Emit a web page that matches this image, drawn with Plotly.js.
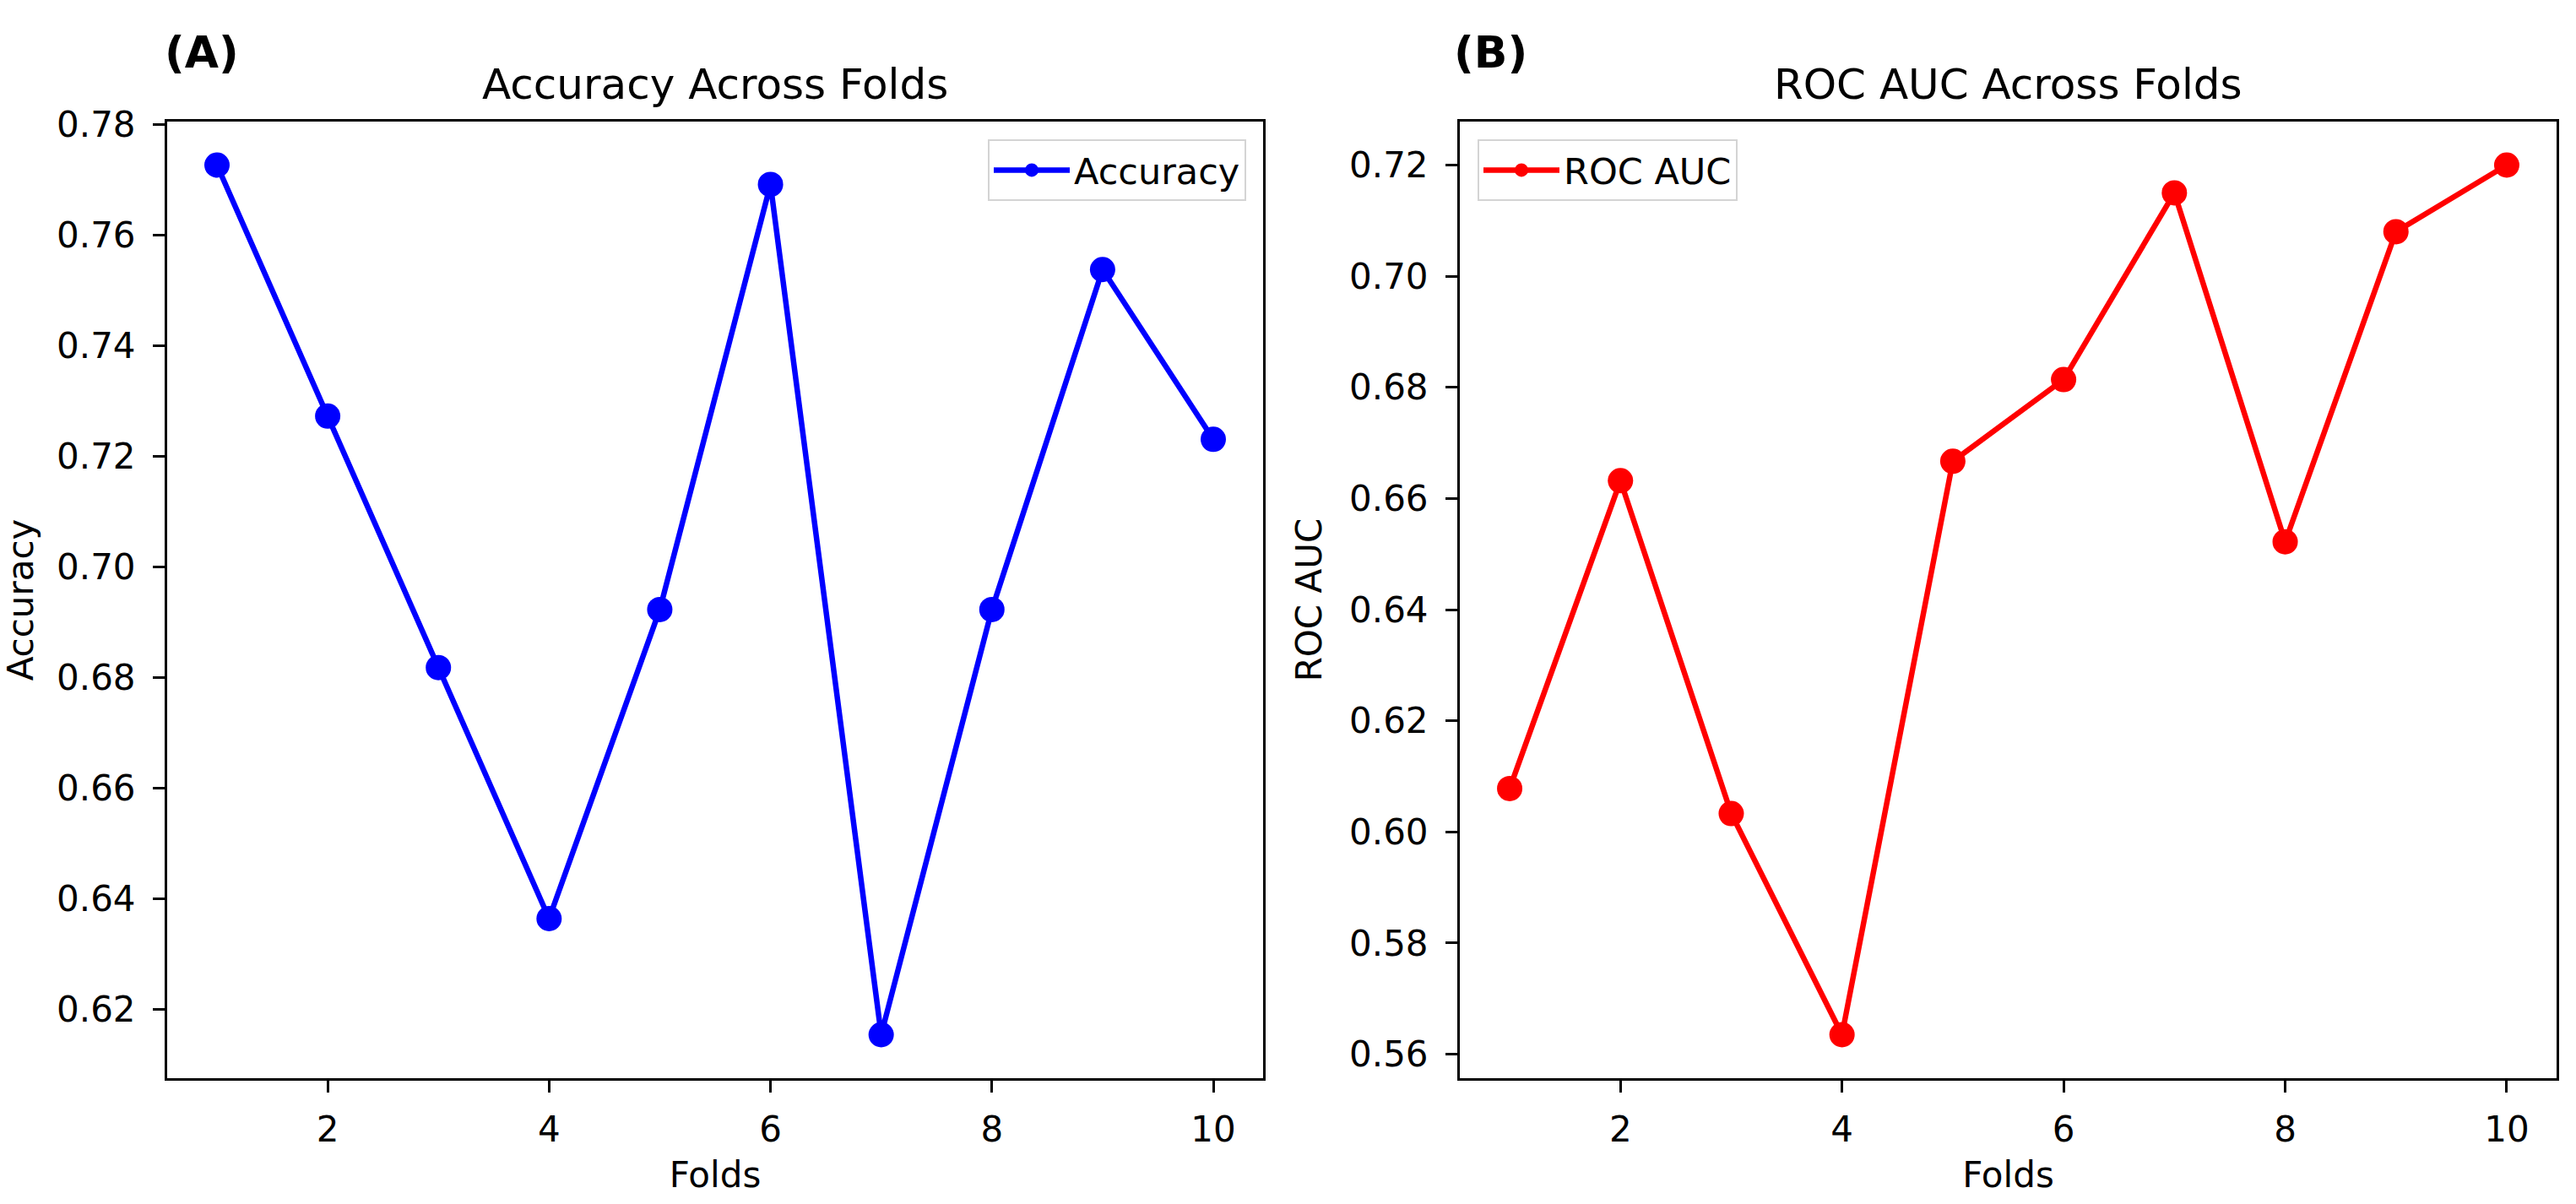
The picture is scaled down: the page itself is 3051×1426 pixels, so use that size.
<!DOCTYPE html>
<html>
<head>
<meta charset="utf-8">
<script src="https://cdn.plot.ly/plotly-3.0.1.min.js"></script>
<style>
  html, body { margin: 0; padding: 0; background: #fff; }
  #chart { width: 3051px; height: 1426px; }
</style>
</head>
<body>
<div id="chart"></div>
<script>
// ---- data ----
const folds = [1, 2, 3, 4, 5, 6, 7, 8, 9, 10];
const accuracy = [0.7727, 0.7273, 0.6818, 0.6364, 0.6923, 0.7692, 0.6154, 0.6923, 0.7538, 0.7231];
const rocAuc = [0.6078, 0.6632, 0.6033, 0.5635, 0.6667, 0.6814, 0.7150, 0.6522, 0.7080, 0.7200];
const panelTitles = ["Accuracy Across Folds", "ROC AUC Across Folds"];
const panelLetters = ["(A)", "(B)"];
const seriesNames = ["Accuracy", "ROC AUC"];

// matplotlib-like 5% auto margins
function pad(arr) {
  const lo = Math.min(...arr), hi = Math.max(...arr), d = (hi - lo) * 0.05;
  return [lo - d, hi + d];
}

const FONT = "DejaVu Sans";
const tickFont = { family: FONT, size: 42, color: "#000" };

const traces = [
  {
    x: folds, y: accuracy, name: seriesNames[0], type: "scatter", mode: "lines+markers",
    line: { color: "#0000ff", width: 6.5 }, marker: { color: "#0000ff", size: 30 },
    xaxis: "x", yaxis: "y", legend: "legend"
  },
  {
    x: folds, y: rocAuc, name: seriesNames[1], type: "scatter", mode: "lines+markers",
    line: { color: "#ff0000", width: 6.5 }, marker: { color: "#ff0000", size: 30 },
    xaxis: "x2", yaxis: "y2", legend: "legend2"
  }
];

function xax(domain, anchor) {
  return {
    domain: domain, anchor: anchor, range: pad(folds),
    tickmode: "linear", tick0: 0, dtick: 2,
    showline: true, mirror: true, linecolor: "#000", linewidth: 3,
    ticks: "outside", ticklen: 14, tickwidth: 3, tickcolor: "#000",
    showgrid: false, zeroline: false, tickfont: tickFont,
    ticklabelstandoff: 8,
    title: { text: "Folds", font: { family: FONT, size: 42, color: "#000" }, standoff: 16 }
  };
}
function yax(domain, anchor, data, label) {
  return {
    domain: domain, anchor: anchor, range: pad(data),
    tickmode: "linear", tick0: 0, dtick: 0.02, tickformat: ".2f",
    showline: true, mirror: true, linecolor: "#000", linewidth: 3,
    ticks: "outside", ticklen: 14, tickwidth: 3, tickcolor: "#000",
    showgrid: false, zeroline: false, tickfont: tickFont,
    ticklabelstandoff: 12,
    title: { text: label, font: { family: FONT, size: 42, color: "#000" }, standoff: 20 }
  };
}

const W = 3051, H = 1426;
const yDom = [(H - 1277) / H, (H - 144) / H];

const legendBase = {
  bgcolor: "#fff", bordercolor: "#d4d4d4", borderwidth: 2,
  itemwidth: 90, itemsizing: "trace",
  font: { family: FONT, size: 43, color: "#000" }
};

const layout = {
  width: W, height: H,
  margin: { l: 0, r: 0, t: 0, b: 0 },
  paper_bgcolor: "#fff", plot_bgcolor: "#fff",
  font: { family: FONT, color: "#000" },
  xaxis: xax([198 / W, 1496 / W], "y"),
  yaxis: yax(yDom, "x", accuracy, seriesNames[0]),
  xaxis2: xax([1729 / W, 3028 / W], "y2"),
  yaxis2: yax(yDom, "x2", rocAuc, seriesNames[1]),
  legend: Object.assign({}, legendBase, {
    x: 1476 / W, xanchor: "right", y: (H - 165) / H, yanchor: "top"
  }),
  legend2: Object.assign({}, legendBase, {
    x: 1750 / W, xanchor: "left", y: (H - 165) / H, yanchor: "top"
  }),
  showlegend: true,
  annotations: [
    { text: panelTitles[0], xref: "paper", yref: "paper", x: 847 / W, y: (H - 100) / H,
      xanchor: "center", yanchor: "middle", showarrow: false,
      font: { family: FONT, size: 50, color: "#000" } },
    { text: panelTitles[1], xref: "paper", yref: "paper", x: 2378 / W, y: (H - 100) / H,
      xanchor: "center", yanchor: "middle", showarrow: false,
      font: { family: FONT, size: 50, color: "#000" } },
    { text: "<b>" + panelLetters[0] + "</b>", xref: "paper", yref: "paper", x: 193 / W, y: (H - 62) / H,
      xanchor: "left", yanchor: "middle", showarrow: false,
      font: { family: FONT, size: 52, color: "#000" } },
    { text: "<b>" + panelLetters[1] + "</b>", xref: "paper", yref: "paper", x: 1720 / W, y: (H - 62) / H,
      xanchor: "left", yanchor: "middle", showarrow: false,
      font: { family: FONT, size: 52, color: "#000" } }
  ]
};

Plotly.newPlot("chart", traces, layout, { displayModeBar: false, staticPlot: true });
</script>
</body>
</html>
